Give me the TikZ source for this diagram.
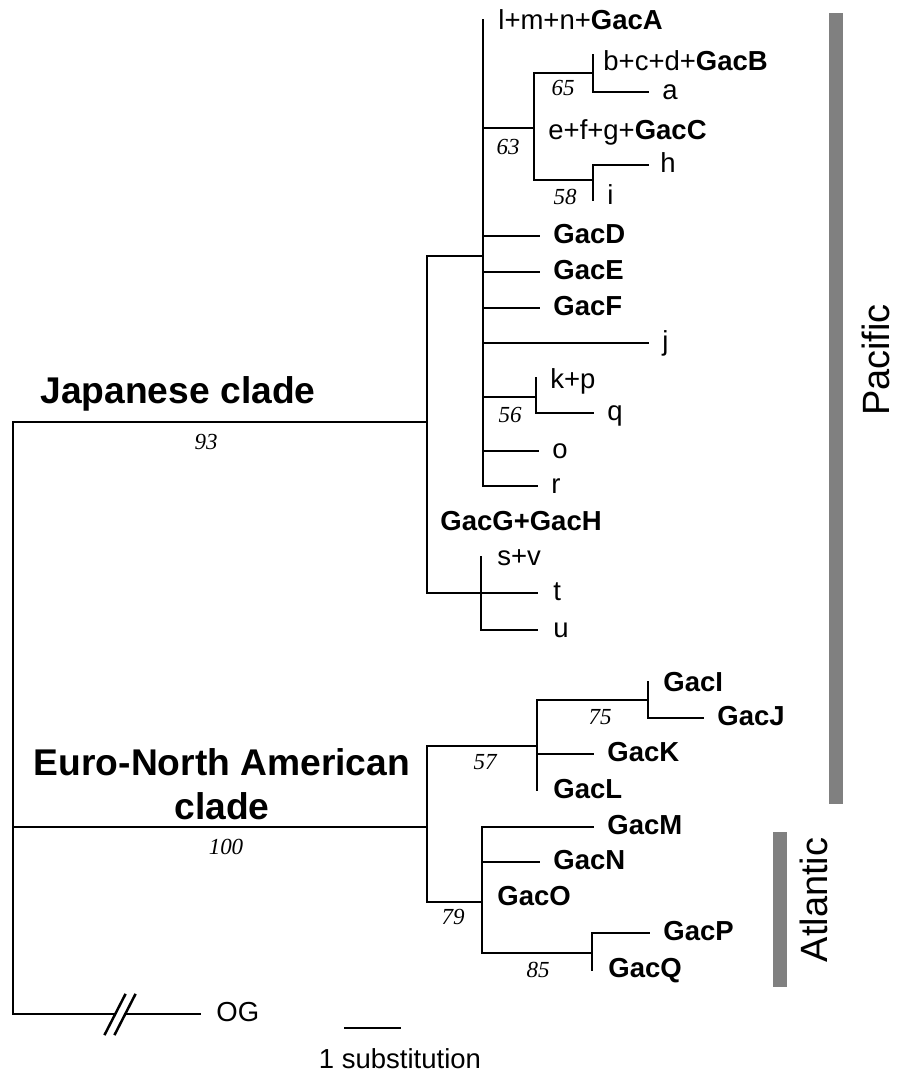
\documentclass[tikz,border=0pt]{standalone}
\usepackage{fontspec}
\setmainfont{Liberation Sans}
\newfontfamily\bootfont{Liberation Serif}
\usetikzlibrary{positioning, calc}

\begin{document}
\begin{tikzpicture}[
    x=0.5pt, y=-0.5pt,
    % Styles
    branch/.style={ % Tree branches
        line width=1.25pt,
        line cap=rect
    },
    tip/.style={ % Taxon labels
        inner sep=0pt,
        text height=0.72em,
        text depth=0pt,
        font=\fontsize{13.75}{16}\selectfont
    },
    boot/.style={ % Bootstrap values
        inner sep=0pt,
        font=\bootfont\itshape\fontsize{11.5}{13}\selectfont
    },
    clade/.style={ % Clade names
        inner sep=0pt,
        font=\fontsize{18.6}{22}\selectfont\bfseries
    },
    region/.style={ % Ocean bars
        fill=black!50,
        draw=none
    },
    ocean/.style={
        rotate=90,
        inner sep=0pt,
        text height=0.72em,
        text depth=0pt,
        font=\fontsize{19}{22}\selectfont
    }
]
    \useasboundingbox (0,0) rectangle (897,1073);

    % Root
    \coordinate (root) at (13,422);
    \coordinate (rootE) at (13,827);
    \coordinate (brkL) at (115,1014);
    \coordinate (brkR) at (125,1014);
    \coordinate (eOG) at (200,1014);
    \draw[branch] (root) |- (brkL);
    \draw[branch] (brkR) -- (eOG);
    \draw[branch] ([shift={(-10,20)}]brkL) -- ([shift={(10,-19)}]brkL);
    \draw[branch] ([shift={(-10,20)}]brkR) -- ([shift={(10,-19)}]brkR);
    \node[tip, right=8pt of eOG] (og) {OG};

    % Japanese clade
    \coordinate (J) at (427,422);
    \coordinate (Jtop) at (427,256);
    \coordinate (Jbot) at (427,593);
    \coordinate (P) at (483,256);
    \coordinate (Ptop) at (483,20);
    \coordinate (er) at (537,486);
    \draw[branch] (root) -- (J);
    \draw[branch] (P) -| (Jbot);
    \draw[branch] (Ptop) |- (er);
    \node[clade, anchor=base] (japclade) at (178,403) {Japanese clade};
    \node[boot] (b93) at (206,442) {93};

    % Subclade 63
    \coordinate (n63) at (534,128);
    \coordinate (n65) at (593,73);
    \coordinate (n58) at (593,180);
    \coordinate (n65a) at (593,55);
    \coordinate (ea) at (648,92);
    \coordinate (eh) at (648,165);
    \coordinate (n58b) at (593,200);
    \draw[branch] (P |- n63) -- (n63);
    \draw[branch] (n65) -| (n63) |- (n58);
    \draw[branch] (n65a) |- (ea);
    \draw[branch] (eh) -| (n58b);
    \node[boot] (b63) at (508,147) {63};
    \node[boot] (b65) at (563,88) {65};
    \node[boot] (b58) at (565,197) {58};

    % Polytomy tips
    \coordinate (eD) at (539,236);
    \coordinate (eE) at (539,272);
    \coordinate (eF) at (539,308);
    \coordinate (ej) at (648,343);
    \coordinate (eo) at (538,451);
    \draw[branch] (P |- eD) -- (eD);
    \draw[branch] (P |- eE) -- (eE);
    \draw[branch] (P |- eF) -- (eF);
    \draw[branch] (P |- ej) -- (ej);
    \draw[branch] (P |- eo) -- (eo);

    % Subclade 56
    \coordinate (n56) at (536,397);
    \coordinate (n56a) at (536,378);
    \coordinate (eq) at (593,413);
    \draw[branch] (P |- n56) -- (n56);
    \draw[branch] (n56a) |- (eq);
    \node[boot] (b56) at (510,415) {56};

    % s+v, t, u
    \coordinate (nS) at (481,557);
    \coordinate (et) at (537,593);
    \coordinate (eu) at (537,630);
    \draw[branch] (Jbot) -- (et);
    \draw[branch] (nS) |- (eu);

    % Japanese tip labels
    \node[tip, anchor=west] (lmn) at (498,22) {l+m+n+\textbf{GacA}};
    \node[tip, anchor=west] (bcd) at (603,63) {b+c+d+\textbf{GacB}};
    \node[tip, right=7pt of ea] (ta) {a};
    \node[tip, anchor=west] (efg) at (548,132) {e+f+g+\textbf{GacC}};
    \node[tip, right=6pt of eh] (th) {h};
    \node[tip, anchor=west] (ti) at (607,197) {i};
    \node[tip, right=7pt of eD] (gacD) {\textbf{GacD}};
    \node[tip, right=7pt of eE] (gacE) {\textbf{GacE}};
    \node[tip, right=7pt of eF] (gacF) {\textbf{GacF}};
    \node[tip, right=7pt of ej] (tj) {j};
    \node[tip, anchor=west] (kp) at (550,381) {k+p};
    \node[tip, right=7pt of eq] (tq) {q};
    \node[tip, right=7pt of eo] (to) {o};
    \node[tip, right=7pt of er] (tr) {r};
    \node[tip, anchor=west] (gacGH) at (440,523) {\textbf{GacG+GacH}};
    \node[tip, anchor=west] (sv) at (497,558) {s+v};
    \node[tip, right=8pt of et] (tt) {t};
    \node[tip, right=8pt of eu] (tu) {u};

    % Euro-North American clade
    \coordinate (E) at (427,827);
    \coordinate (n57) at (537,746);
    \coordinate (n79) at (482,902);
    \draw[branch] (rootE) -- (E);
    \draw[branch] (n57) -| (E) |- (n79);
    \node[clade, anchor=base] (eurclade) at (222,775) {Euro-North American};
    \node[clade, anchor=base] (eurclade2) at (222,819) {clade};
    \node[boot] (b100) at (226,847) {100};

    % Subclade 57
    \coordinate (n75) at (648,700);
    \coordinate (n57b) at (537,790);
    \coordinate (n75a) at (648,682);
    \coordinate (eJ) at (703,718);
    \coordinate (eK) at (593,754);
    \draw[branch] (n75) -| (n57b);
    \draw[branch] (n75a) |- (eJ);
    \draw[branch] (n57 |- eK) -- (eK);
    \node[boot] (b57) at (485,762) {57};
    \node[boot] (b75) at (600,717) {75};

    % Subclade 79
    \coordinate (eM) at (593,827);
    \coordinate (eN) at (539,862);
    \coordinate (n85) at (592,953);
    \coordinate (eP) at (649,933);
    \coordinate (n85b) at (592,970);
    \draw[branch] (eM) -| (n79) |- (n85);
    \draw[branch] (n79 |- eN) -- (eN);
    \draw[branch] (eP) -| (n85b);
    \node[boot] (b79) at (453,917) {79};
    \node[boot] (b85) at (538,970) {85};

    % Euro tip labels
    \node[tip, anchor=west] (gacI) at (663,684) {\textbf{GacI}};
    \node[tip, right=7pt of eJ] (gacJ) {\textbf{GacJ}};
    \node[tip, right=7pt of eK] (gacK) {\textbf{GacK}};
    \node[tip, anchor=west] (gacL) at (553,791) {\textbf{GacL}};
    \node[tip, right=7pt of eM] (gacM) {\textbf{GacM}};
    \node[tip, right=7pt of eN] (gacN) {\textbf{GacN}};
    \node[tip, anchor=west] (gacO) at (497,898) {\textbf{GacO}};
    \node[tip, right=7pt of eP] (gacP) {\textbf{GacP}};
    \node[tip, anchor=west] (gacQ) at (608,970) {\textbf{GacQ}};

    % Scale bar
    \coordinate (sbL) at (345,1028);
    \coordinate (sbR) at (400,1028);
    \draw[branch] (sbL) -- (sbR);
    \node[tip] (scale) at (400,1061) {1 substitution};

    % Ocean bars
    \fill[region] (829,13) rectangle (843,804);
    \fill[region] (773,832) rectangle (787,987);
    \node[ocean] (pacific) at (882,360) {Pacific};
    \node[ocean] (atlantic) at (820,900) {Atlantic};
\end{tikzpicture}
\end{document}
